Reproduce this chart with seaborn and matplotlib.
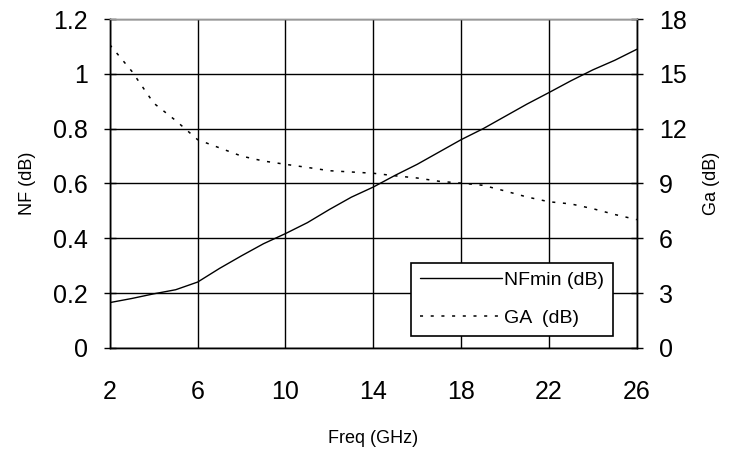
import seaborn as sns
import matplotlib.pyplot as plt
import pandas as pd

# data (1 GHz steps)
freq = list(range(2, 27))
nf_min = [0.165, 0.18, 0.197, 0.212, 0.24, 0.29, 0.336, 0.38, 0.417, 0.457,
          0.505, 0.55, 0.587, 0.63, 0.67, 0.715, 0.76, 0.80, 0.845, 0.89,
          0.932, 0.975, 1.015, 1.05, 1.09]
ga = [16.6, 15.15, 13.4, 12.45, 11.4, 10.95, 10.5, 10.23, 10.05, 9.88,
      9.7, 9.63, 9.56, 9.42, 9.3, 9.12, 9.02, 8.9, 8.59, 8.26,
      8.0, 7.88, 7.62, 7.3, 7.02]

nf_ticks = [0, 0.2, 0.4, 0.6, 0.8, 1, 1.2]
nf_ticklabels = ["0", "0.2", "0.4", "0.6", "0.8", "1", "1.2"]
ga_ticks = [0, 3, 6, 9, 12, 15, 18]
x_ticks = [2, 6, 10, 14, 18, 22, 26]

df = pd.DataFrame({"freq": freq, "nf": nf_min, "ga": ga})

sns.set_style("white")
plt.rcParams['font.family'] = ['Liberation Sans', 'DejaVu Sans']
plt.rcParams['text.color'] = "black"
plt.rcParams['axes.labelcolor'] = "black"

fig = plt.figure(figsize=(7.37, 4.57), dpi=100)
ax = fig.add_axes([0.149, 0.239, 0.715, 0.719])
ax2 = ax.twinx()

sns.lineplot(data=df, x="freq", y="nf", ax=ax, color="black", linewidth=1.0,
             label="NFmin (dB)", legend=False)
sns.lineplot(data=df, x="freq", y="ga", ax=ax2, color="black", linewidth=1.1,
             linestyle=(0, (2, 5)), label="GA  (dB)", legend=False)

ax.set_xlim(2, 26)
ax.set_ylim(0, 1.2)
ax2.set_ylim(0, 18)
ax.set_xticks(x_ticks)
ax.set_yticks(nf_ticks)
ax.set_yticklabels(nf_ticklabels)
ax2.set_yticks(ga_ticks)

ax.grid(True, color="black", linewidth=1)
ax.tick_params(axis="x", direction="inout", length=8, width=1, color="black",
               labelcolor="black", labelsize=18, pad=19)
ax.tick_params(axis="y", direction="inout", length=8, width=1, color="black",
               labelcolor="black", labelsize=18, pad=12)
ax2.tick_params(axis="y", direction="inout", length=8, width=1, color="black",
                labelcolor="black", labelsize=18, pad=12)

for a in (ax, ax2):
    for s in a.spines.values():
        s.set_color("black")
        s.set_linewidth(1)
    a.spines["top"].set_color("#999999")

ax.set_xlabel("Freq (GHz)", fontsize=13, color="black")
ax.set_ylabel("NF (dB)", fontsize=13, color="black")
ax2.set_ylabel("Ga (dB)", fontsize=13, rotation=90, color="black")
ax.xaxis.set_label_coords(0.5, -0.25)
ax.yaxis.set_label_coords(-0.14, 0.5)
ax2.yaxis.set_label_coords(1.125, 0.5)

h1, l1 = ax.get_legend_handles_labels()
h2, l2 = ax2.get_legend_handles_labels()
leg = ax2.legend(h1 + h2, l1 + l2, loc="lower right", bbox_to_anchor=(0.954, 0.036),
                 borderaxespad=0, frameon=True, fancybox=False, shadow=False,
                 fontsize=14, handlelength=4.2, handletextpad=0.1, borderpad=0.45,
                 labelspacing=1.05, edgecolor="black", framealpha=1)
leg.get_frame().set_linewidth(1.2)
for t in leg.get_texts():
    t.set_color("black")

plt.savefig("out.png", dpi=100)
